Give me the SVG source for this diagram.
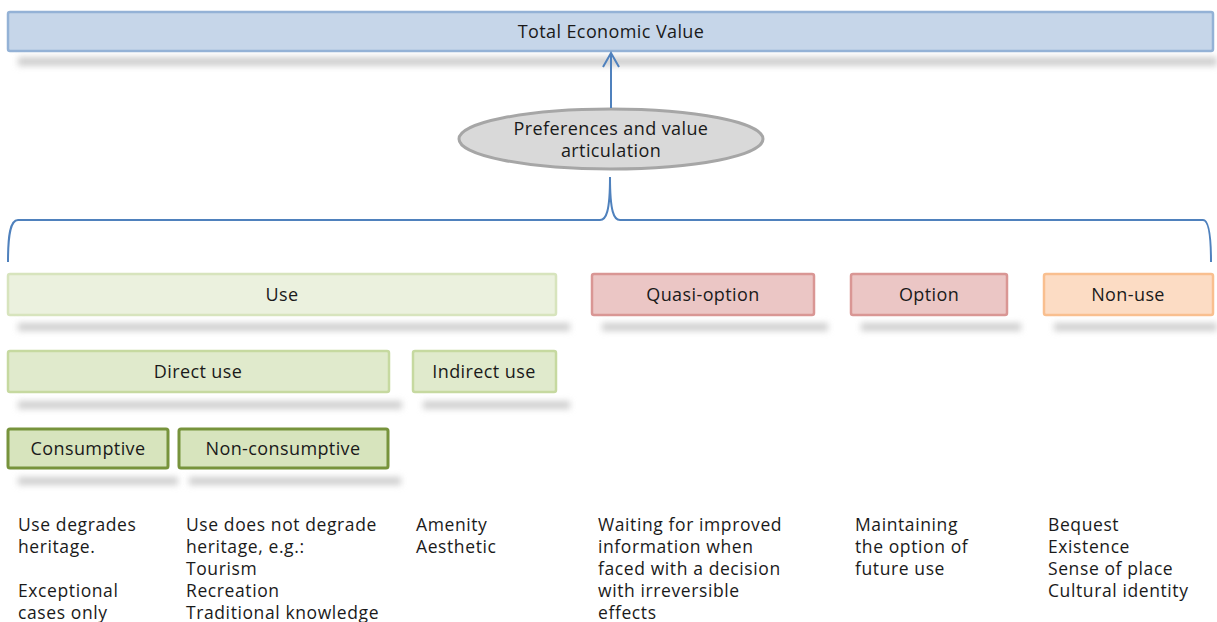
<svg xmlns="http://www.w3.org/2000/svg" width="1217" height="622" viewBox="0 0 1217 622">
  <defs>
    <filter id="soft" x="-5%" y="-200%" width="110%" height="500%">
      <feGaussianBlur stdDeviation="3"/>
    </filter>
  </defs>
  <style>
    text { font-family: "Open Sans", "Liberation Sans", sans-serif; font-size: 18px; letter-spacing: 0.4px; fill: #1a1a1a; }
    .lbl { text-anchor: middle; dominant-baseline: central; }
    .desc { font-size: 17.5px; letter-spacing: 0.6px; }
    .shadow { fill: #cfcfcf; filter: url(#soft); }
    .tev { fill: #c6d6e9; stroke: #94b2d6; stroke-width: 2.5; }
    .use1 { fill: #ebf1de; stroke: #d7e4bd; stroke-width: 2.5; }
    .use2 { fill: #e0eacc; stroke: #c6d9a0; stroke-width: 2.5; }
    .use3 { fill: #d7e4bd; stroke: #77933c; stroke-width: 3; }
    .opt { fill: #ebc6c5; stroke: #d99694; stroke-width: 2.5; }
    .nonuse { fill: #fcdcc4; stroke: #f9bf8f; stroke-width: 2.5; }
    .conn { fill: none; stroke: #4f81bd; stroke-width: 2; }
  </style>

  <!-- top level -->
  <g id="total-economic-value">
    <rect class="shadow" x="18" y="57" width="1199" height="9"/>
    <rect class="tev" x="8" y="12" width="1205" height="39" rx="2"/>
    <text class="lbl" x="611" y="31">Total Economic Value</text>
  </g>

  <g id="preferences">
    <ellipse cx="611" cy="139" rx="152" ry="30" fill="#d9d9d9" stroke="#a6a6a6" stroke-width="3"/>
    <text class="lbl" x="611" y="128">Preferences and value</text>
    <text class="lbl" x="611" y="150">articulation</text>
  </g>

  <g id="connectors">
    <line class="conn" x1="611" y1="108" x2="611" y2="53"/>
    <polyline class="conn" points="603,67 611,53 619,67"/>
    <path class="conn" d="M8,262 C8,236 10,220 18,220 L600,220 C606,220 610,212 610,177 C610,212 614,220 620,220 L1203,220 C1209,220 1211,236 1211,262"/>
  </g>

  <!-- value categories -->
  <g id="use">
    <rect class="shadow" x="18" y="323" width="552" height="8"/>
    <rect class="use1" x="8" y="274" width="548" height="41" rx="2"/>
    <text class="lbl" x="282" y="294">Use</text>
  </g>
  <g id="quasi-option">
    <rect class="shadow" x="602" y="323" width="226" height="8"/>
    <rect class="opt" x="592" y="274" width="222" height="41" rx="2"/>
    <text class="lbl" x="703" y="294">Quasi-option</text>
  </g>
  <g id="option">
    <rect class="shadow" x="861" y="323" width="160" height="8"/>
    <rect class="opt" x="851" y="274" width="156" height="41" rx="2"/>
    <text class="lbl" x="929" y="294">Option</text>
  </g>
  <g id="non-use">
    <rect class="shadow" x="1054" y="323" width="163" height="8"/>
    <rect class="nonuse" x="1044" y="274" width="169" height="41" rx="2"/>
    <text class="lbl" x="1128" y="294">Non-use</text>
  </g>

  <g id="direct-use">
    <rect class="shadow" x="18" y="401" width="384" height="8"/>
    <rect class="use2" x="8" y="351" width="381" height="41" rx="2"/>
    <text class="lbl" x="198" y="371">Direct use</text>
  </g>
  <g id="indirect-use">
    <rect class="shadow" x="423" y="401" width="147" height="8"/>
    <rect class="use2" x="413" y="351" width="143" height="41" rx="2"/>
    <text class="lbl" x="484" y="371">Indirect use</text>
  </g>

  <g id="consumptive">
    <rect class="shadow" x="18" y="477" width="160" height="8"/>
    <rect class="use3" x="8" y="429" width="160" height="39" rx="2"/>
    <text class="lbl" x="88" y="448">Consumptive</text>
  </g>
  <g id="non-consumptive">
    <rect class="shadow" x="189" y="477" width="212" height="8"/>
    <rect class="use3" x="179" y="429" width="209" height="39" rx="2"/>
    <text class="lbl" x="283" y="448">Non-consumptive</text>
  </g>

  <!-- descriptions -->
  <g id="descriptions" class="desc">
    <text class="desc" x="18" y="531">Use degrades</text>
    <text class="desc" x="18" y="553">heritage.</text>
    <text class="desc" x="18" y="597">Exceptional</text>
    <text class="desc" x="18" y="619">cases only</text>

    <text class="desc" x="186" y="531">Use does not degrade</text>
    <text class="desc" x="186" y="553">heritage, e.g.:</text>
    <text class="desc" x="186" y="575">Tourism</text>
    <text class="desc" x="186" y="597">Recreation</text>
    <text class="desc" x="186" y="619">Traditional knowledge</text>

    <text class="desc" x="416" y="531">Amenity</text>
    <text class="desc" x="416" y="553">Aesthetic</text>

    <text class="desc" x="598" y="531">Waiting for improved</text>
    <text class="desc" x="598" y="553">information when</text>
    <text class="desc" x="598" y="575">faced with a decision</text>
    <text class="desc" x="598" y="597">with irreversible</text>
    <text class="desc" x="598" y="619">effects</text>

    <text class="desc" x="855" y="531">Maintaining</text>
    <text class="desc" x="855" y="553">the option of</text>
    <text class="desc" x="855" y="575">future use</text>

    <text class="desc" x="1048" y="531">Bequest</text>
    <text class="desc" x="1048" y="553">Existence</text>
    <text class="desc" x="1048" y="575">Sense of place</text>
    <text class="desc" x="1048" y="597">Cultural identity</text>
  </g>
</svg>
